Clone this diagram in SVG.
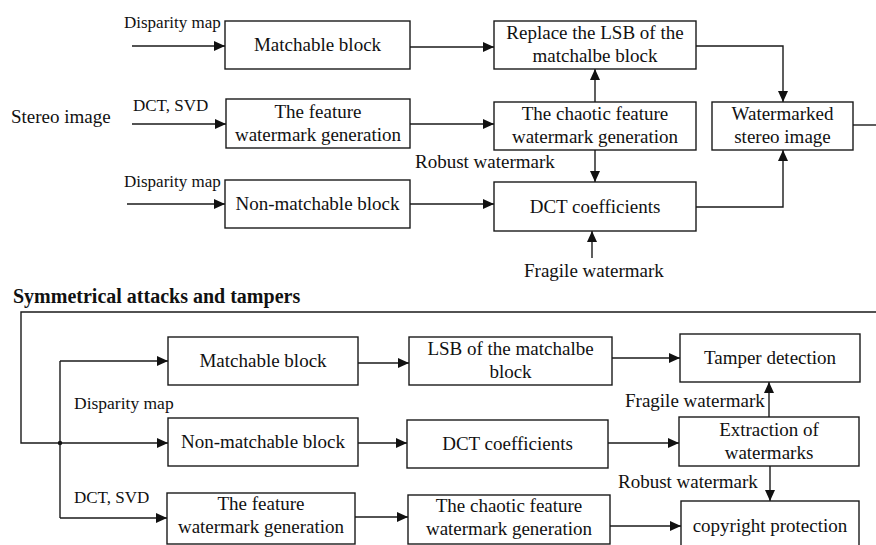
<svg xmlns="http://www.w3.org/2000/svg" width="876" height="545" viewBox="0 0 876 545">
<defs>
<marker id="ah" markerUnits="userSpaceOnUse" markerWidth="11" markerHeight="10" refX="11" refY="5" orient="auto">
<path d="M0,0 L11,5 L0,10 z" fill="#111"/>
</marker>
<style>
.box{fill:#fff;stroke:#1a1a1a;stroke-width:1.4}
.t{font-family:"Liberation Serif","Times New Roman",serif;font-size:19px;fill:#111;text-anchor:middle}
.l{font-family:"Liberation Serif","Times New Roman",serif;font-size:19px;fill:#111}
.s{font-family:"Liberation Serif","Times New Roman",serif;font-size:17px;fill:#111}
.b{font-family:"Liberation Serif","Times New Roman",serif;font-size:20px;font-weight:bold;fill:#111}
.c{fill:none;stroke:#1a1a1a;stroke-width:1.4}
.a{fill:none;stroke:#1a1a1a;stroke-width:1.4;marker-end:url(#ah)}
</style>
</defs>
<rect width="876" height="545" fill="#fff"/>

<g id="connectors">
<line class="a" x1="132" y1="46" x2="225" y2="46"/>
<line class="a" x1="132" y1="124" x2="226" y2="124"/>
<line class="a" x1="127" y1="204" x2="225" y2="204"/>
<line class="a" x1="410" y1="47" x2="494" y2="47"/>
<line class="a" x1="410" y1="124" x2="494" y2="124"/>
<line class="a" x1="410" y1="204" x2="494" y2="204"/>
<line class="a" x1="595" y1="102" x2="595" y2="69"/>
<line class="a" x1="595" y1="150" x2="595" y2="182"/>
<line class="a" x1="592" y1="258" x2="592" y2="231"/>
<path class="a" d="M696,46 H783 V102"/>
<path class="a" d="M696,207 H783 V150"/>
<line class="c" x1="853" y1="125" x2="876" y2="125"/>

<path class="a" d="M876,312 H21 V443 H168"/>
<circle cx="60" cy="443" r="2.2" fill="#111"/>
<line class="c" x1="60" y1="361" x2="60" y2="518"/>
<line class="a" x1="60" y1="361" x2="168" y2="361"/>
<line class="a" x1="60" y1="518" x2="167" y2="518"/>
<line class="a" x1="358" y1="363" x2="409" y2="363"/>
<line class="a" x1="612" y1="358" x2="680" y2="358"/>
<line class="a" x1="358" y1="443" x2="407" y2="443"/>
<line class="a" x1="608" y1="443" x2="679" y2="443"/>
<line class="a" x1="355" y1="517" x2="408" y2="517"/>
<line class="a" x1="610" y1="526" x2="681" y2="526"/>
<line class="a" x1="769" y1="417" x2="769" y2="382"/>
<line class="a" x1="770" y1="466" x2="770" y2="501"/>
</g>

<g id="labels">
<text class="s" x="124" y="28">Disparity map</text>
<text class="s" x="133" y="111">DCT, SVD</text>
<text class="l" x="11" y="123">Stereo image</text>
<text class="s" x="124" y="187">Disparity map</text>
<text class="l" x="415" y="168">Robust watermark</text>
<text class="l" x="524" y="277">Fragile watermark</text>
<text class="b" x="13" y="303">Symmetrical attacks and tampers</text>
<text class="s" x="74" y="409" style="font-size:17.5px">Disparity map</text>
<text class="s" x="74" y="503">DCT, SVD</text>
<text class="l" x="625" y="407">Fragile watermark</text>
<text class="l" x="618" y="488">Robust watermark</text>
</g>

<g id="matchable-top"><rect class="box" x="225" y="21" width="185" height="48"/><text class="t" x="317.5" y="51">Matchable block</text></g>
<g id="feature-top"><rect class="box" x="226" y="99" width="184" height="49"/><text class="t" x="318" y="118">The feature</text><text class="t" x="318" y="141">watermark generation</text></g>
<g id="nonmatchable-top"><rect class="box" x="225" y="180" width="185" height="48"/><text class="t" x="317.5" y="210">Non-matchable block</text></g>
<g id="replace-lsb"><rect class="box" x="494" y="21" width="202" height="48"/><text class="t" x="595" y="39">Replace the LSB of the</text><text class="t" x="595" y="62">matchalbe block</text></g>
<g id="chaotic-top"><rect class="box" x="494" y="102" width="202" height="48"/><text class="t" x="595" y="120">The chaotic feature</text><text class="t" x="595" y="143">watermark generation</text></g>
<g id="dct-top"><rect class="box" x="494" y="182" width="202" height="49"/><text class="t" x="595" y="213">DCT coefficients</text></g>
<g id="watermarked"><rect class="box" x="712" y="102" width="141" height="48"/><text class="t" x="782.5" y="120">Watermarked</text><text class="t" x="782.5" y="143">stereo image</text></g>

<g id="matchable-bottom"><rect class="box" x="168" y="337" width="190" height="48"/><text class="t" x="263" y="367">Matchable block</text></g>
<g id="nonmatchable-bottom"><rect class="box" x="168" y="418" width="190" height="48"/><text class="t" x="263" y="448">Non-matchable block</text></g>
<g id="feature-bottom"><rect class="box" x="167" y="493" width="188" height="51"/><text class="t" x="261" y="510">The feature</text><text class="t" x="261" y="533">watermark generation</text></g>
<g id="lsb-bottom"><rect class="box" x="409" y="337" width="203" height="48"/><text class="t" x="510.5" y="355">LSB of the matchalbe</text><text class="t" x="510.5" y="378">block</text></g>
<g id="dct-bottom"><rect class="box" x="407" y="420" width="201" height="48"/><text class="t" x="507.5" y="450">DCT coefficients</text></g>
<g id="chaotic-bottom"><rect class="box" x="408" y="495" width="202" height="49"/><text class="t" x="509" y="512">The chaotic feature</text><text class="t" x="509" y="535">watermark generation</text></g>
<g id="tamper"><rect class="box" x="680" y="334" width="180" height="48"/><text class="t" x="770" y="364">Tamper detection</text></g>
<g id="extraction"><rect class="box" x="679" y="417" width="180" height="49"/><text class="t" x="769" y="436">Extraction of</text><text class="t" x="769" y="459">watermarks</text></g>
<g id="copyright"><rect class="box" x="681" y="501" width="178" height="50"/><text class="t" x="770" y="532">copyright protection</text></g>
</svg>
